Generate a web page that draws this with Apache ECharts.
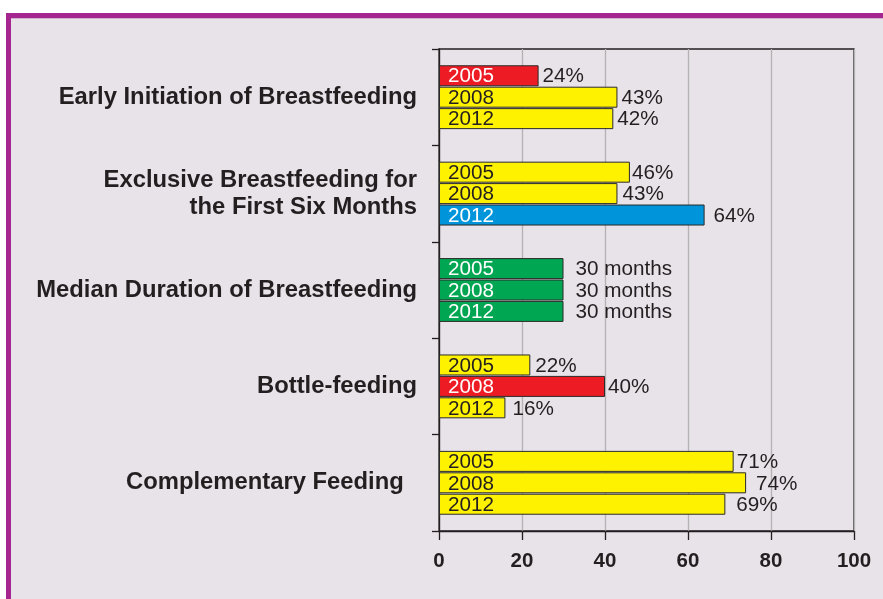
<!DOCTYPE html>
<html><head><meta charset="utf-8">
<script src="https://cdn.jsdelivr.net/npm/echarts@6/dist/echarts.min.js"></script>
<style>html,body{margin:0;padding:0;background:#fff}#c{width:883px;height:599px}</style>
</head><body><div id="c"></div>
<script>
const categories = ['Early Initiation of Breastfeeding', 'Exclusive Breastfeeding for\nthe First Six Months', 'Median Duration of Breastfeeding', 'Bottle-feeding', 'Complementary Feeding  '];
const years = ['2005', '2008', '2012'];
const v2005 = [24, 46, 30, 22, 71];
const v2008 = [43, 43, 30, 40, 74];
const v2012 = [42, 64, 30, 16, 69];
const units = ['%', '%', ' months', '%', '%'];
const xTicks = [0, 20, 40, 60, 80, 100];
// colour keys per bar
const c2005 = ['red', 'yellow', 'green', 'yellow', 'yellow'];
const c2008 = ['yellow', 'yellow', 'green', 'red', 'yellow'];
const c2012 = ['yellow', 'blue', 'green', 'yellow', 'yellow'];
// style: label gaps
const gap2005 = [4, 2, 12, 5, 3];
const gap2008 = [4, 5, 12, 3, 10];
const gap2012 = [4, 9, 12, 7, 11];

const palette = { red: '#ed1c24', yellow: '#fff200', green: '#00a651', blue: '#0095da' };
const inkOn = { red: '#ffffff', yellow: '#231f20', green: '#ffffff', blue: '#ffffff' };
const ink = '#231f20';
const FONT = 'Arial, "Liberation Sans", sans-serif';

function mainSeries(vals, cols, gaps) {
  return {
    type: 'bar', yAxisIndex: 0, barWidth: 21, barGap: '2%',
    data: vals.map((v, i) => ({
      value: v,
      itemStyle: { color: palette[cols[i]], borderColor: '#2a2a2a', borderWidth: 1 },
      label: { show: true, position: 'right', distance: gaps[i], formatter: v + units[i],
               color: ink, fontSize: 20.7, fontFamily: FONT, offset: [0, 1] }
    })),
    silent: true
  };
}
function yearSeries(vals, cols, year) {
  return {
    type: 'bar', yAxisIndex: 1, barWidth: 21, barGap: '2%',
    data: vals.map((v, i) => ({
      value: v,
      itemStyle: { color: 'rgba(0,0,0,0)', borderWidth: 0 },
      label: { show: true, position: 'insideLeft', distance: 9, formatter: year,
               color: inkOn[cols[i]], fontSize: 20.7, fontFamily: FONT, offset: [0, 1] }
    })),
    silent: true
  };
}

const chart = echarts.init(document.getElementById('c'), null, { renderer: 'canvas' });
chart.setOption({
  animation: false,
  backgroundColor: '#ffffff',
  graphic: [
    { type: 'rect', z: -10, shape: { x: 6, y: 13, width: 877, height: 586 }, style: { fill: '#a6268f' } },
    { type: 'rect', z: -9, shape: { x: 11, y: 18, width: 872, height: 581 }, style: { fill: '#e8e2e9' } },
    { type: 'rect', z: -9, shape: { x: 11, y: 18, width: 872, height: 1 }, style: { fill: '#d2aecd' } }
  ],
  grid: { left: 439, top: 49, right: 29, bottom: 68, show: true, borderColor: ink, borderWidth: 1.3, backgroundColor: 'transparent' },
  xAxis: {
    type: 'value', min: xTicks[0], max: xTicks[xTicks.length - 1], interval: 20,
    axisLine: { show: true, lineStyle: { color: ink, width: 1.3 } },
    axisTick: { show: true, length: 9, lineStyle: { color: ink, width: 1.3 } },
    axisLabel: { color: ink, fontSize: 20.5, fontWeight: 'bold', fontFamily: FONT, margin: 20 },
    splitLine: { show: true, lineStyle: { color: '#b3b3b3', width: 1.3 } }
  },
  yAxis: [
    {
      type: 'category', data: categories, inverse: true,
      axisLine: { show: true, lineStyle: { color: ink, width: 1.3 } },
      axisTick: { show: true, length: 7, lineStyle: { color: ink, width: 1.3 } },
      axisLabel: { color: ink, fontSize: 23.8, fontWeight: 'bold', fontFamily: FONT, margin: 22, lineHeight: 27, align: 'right' },
      splitLine: { show: false }
    },
    { type: 'category', data: categories, inverse: true, show: false }
  ],
  series: [
    mainSeries(v2005, c2005, gap2005),
    mainSeries(v2008, c2008, gap2008),
    mainSeries(v2012, c2012, gap2012),
    yearSeries(v2005, c2005, years[0]),
    yearSeries(v2008, c2008, years[1]),
    yearSeries(v2012, c2012, years[2])
  ]
});
</script></body></html>
